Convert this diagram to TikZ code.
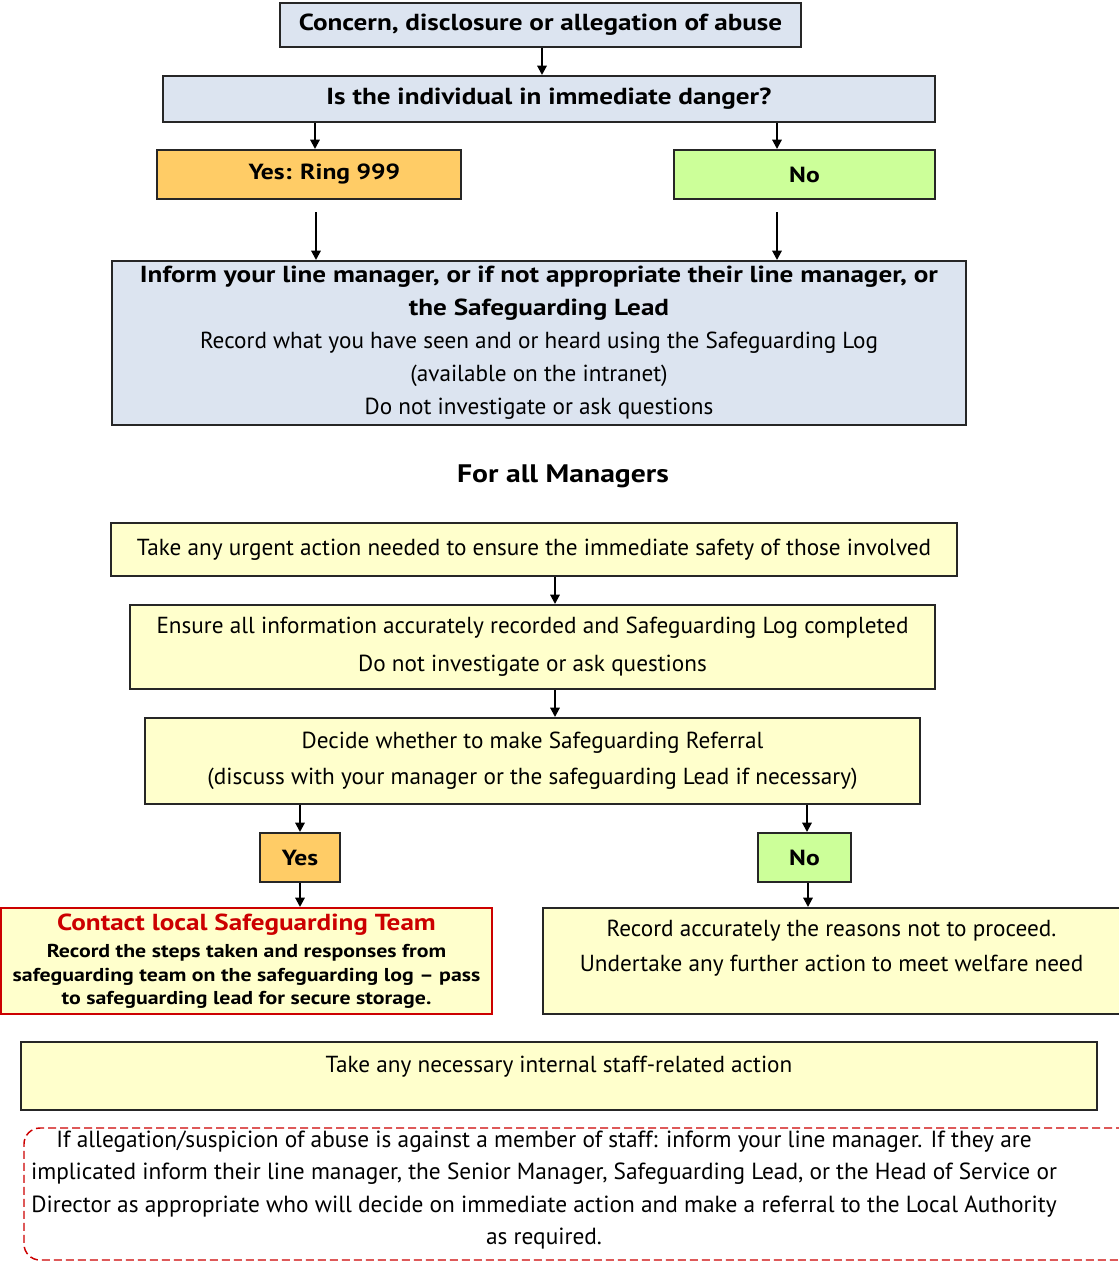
\documentclass[tikz,border=0pt]{standalone}
\usepackage{fontspec}
\setmainfont{PT Sans}[BoldFeatures={FakeStretch=1.17}]
\usepackage{tikz}
\usetikzlibrary{positioning,calc,arrows.meta}
\newlength{\pxu}
\setlength{\pxu}{0.75pt}
\definecolor{boxblue}{HTML}{DCE4F0}
\definecolor{boxorange}{HTML}{FFCC66}
\definecolor{boxgreen}{HTML}{CCFF99}
\definecolor{boxyellow}{HTML}{FFFFCC}
\definecolor{alertred}{HTML}{CC0000}
\tikzset{
  flowbox/.style   = {draw=black!85, line width=1.5pt, align=center, inner sep=2pt,
                      font=\fontsize{17.4}{24.75}\selectfont},
  bluebox/.style   = {flowbox, fill=boxblue},
  orangebox/.style = {flowbox, fill=boxorange, font=\fontsize{16.4}{20}\selectfont\bfseries},
  greenbox/.style  = {flowbox, fill=boxgreen, font=\fontsize{16.4}{20}\selectfont\bfseries},
  yellowbox/.style = {flowbox, fill=boxyellow},
  redbox/.style    = {flowbox, fill=boxyellow, draw=alertred},
  dashbox/.style   = {draw=alertred, line width=1.1pt, dash pattern=on 6pt off 3pt,
                      rounded corners=12pt},
  notetext/.style  = {align=center, font=\fontsize{17.5}{24.4}\selectfont},
  flow/.style      = {line width=1.5pt, -{Triangle[length=7pt,width=7pt]}},
}

\begin{document}
\begin{tikzpicture}[x=1\pxu, y=-1\pxu]
    \useasboundingbox (0,0) rectangle (1118,1263);

    % first part: everybody
    \node[bluebox, minimum width=521\pxu, minimum height=44\pxu, font=\fontsize{17.4}{20}\selectfont\bfseries]
      (concern) at (540.5,25) {Concern, disclosure or allegation of abuse};
    \node[bluebox, minimum width=772\pxu, minimum height=46\pxu, font=\fontsize{17.4}{20}\selectfont\bfseries]
      (danger) at (549,99) {Is the individual in immediate danger?};
    \node[orangebox, minimum width=304\pxu, minimum height=49\pxu] (ring) at (309,174.5)
      {\hspace*{23pt}Yes: Ring 999};
    \node[greenbox, minimum width=261\pxu, minimum height=49\pxu] (no) at (804.5,174.5) {No};
    \node[bluebox, minimum width=854\pxu, minimum height=164\pxu] (inform) at (539,343)
      {\textbf{Inform your line manager, or if not appropriate their line manager, or}\\
       \textbf{the Safeguarding Lead}\\
       Record what you have seen and or heard using the Safeguarding Log\\
       (available on the intranet)\\
       Do not investigate or ask questions};

    \draw[flow] (concern.south -| 542,0) -- (danger.north -| 542,0);
    \draw[flow] (danger.south -| 315,0) -- (ring.north -| 315,0);
    \draw[flow] (danger.south -| 777,0) -- (no.north -| 777,0);
    \draw[flow, shorten <=9pt] (ring.south -| 316,0) -- (inform.north -| 316,0);
    \draw[flow, shorten <=9pt] (no.south -| 777,0) -- (inform.north -| 777,0);

    % managers
    \node[font=\fontsize{19}{22}\selectfont\bfseries] (managers) at (563,476) {For all Managers};

    \node[yellowbox, minimum width=846\pxu, minimum height=53\pxu] (urgent) at (534,549.5)
      {Take any urgent action needed to ensure the immediate safety of those involved};
    \node[yellowbox, minimum width=805\pxu, minimum height=84\pxu] (ensure) at (532.5,647)
      {Ensure all information accurately recorded and Safeguarding Log completed\\[4pt]
       Do not investigate or ask questions};
    \node[yellowbox, minimum width=775\pxu, minimum height=86\pxu] (decide) at (532.5,761)
      {Decide whether to make Safeguarding Referral\\[2pt]
       (discuss with your manager or the safeguarding Lead if necessary)};
    \node[orangebox, minimum width=80\pxu, minimum height=49\pxu] (yes2) at (300,857.5) {Yes};
    \node[greenbox, minimum width=93\pxu, minimum height=49\pxu] (no2) at (804.5,857.5) {No};

    \draw[flow] (urgent.south -| 555,0) -- (ensure.north -| 555,0);
    \draw[flow] (ensure.south -| 555,0) -- (decide.north -| 555,0);
    \draw[flow] (decide.south -| yes2) -- (yes2.north);
    \draw[flow] (decide.south -| 807,0) -- (no2.north -| 807,0);

    % outcome of the referral decision
    \node[redbox, minimum width=491\pxu, minimum height=106\pxu, font=\fontsize{14}{17.6}\selectfont\bfseries]
      (contact) at (246.5,961)
      {{\fontsize{17.4}{20}\selectfont\color{alertred}Contact local Safeguarding Team}\\[3pt]
       Record the steps taken and responses from\\
       safeguarding team on the safeguarding log -- pass\\
       to safeguarding lead for secure storage.};
    \node[yellowbox, minimum width=577\pxu, minimum height=106\pxu, text depth=23pt]
      (record) at (831.5,961)
      {Record accurately the reasons not to proceed.\\[2pt]
       Undertake any further action to meet welfare need};

    \draw[flow] (yes2) -- (yes2 |- contact.north);
    \draw[flow] (no2.south -| 808,0) -- (record.north -| 808,0);

    \node[yellowbox, minimum width=1076\pxu, minimum height=68\pxu, text depth=17pt]
      (internal) at (559,1076) {Take any necessary internal staff-related action};

    % staff allegation note
    \node[dashbox, minimum width=1116\pxu, minimum height=132\pxu] (staffbox) at (582,1194) {};
    \node[notetext] (staffnote) at (544,1190)
      {If allegation/suspicion of abuse is against a member of staff: inform your line manager. If they are\\
       implicated inform their line manager, the Senior Manager, Safeguarding Lead, or the Head of Service or\\
       Director as appropriate who will decide on immediate action and make a referral to the Local Authority\\
       as required.};
\end{tikzpicture}
\end{document}
